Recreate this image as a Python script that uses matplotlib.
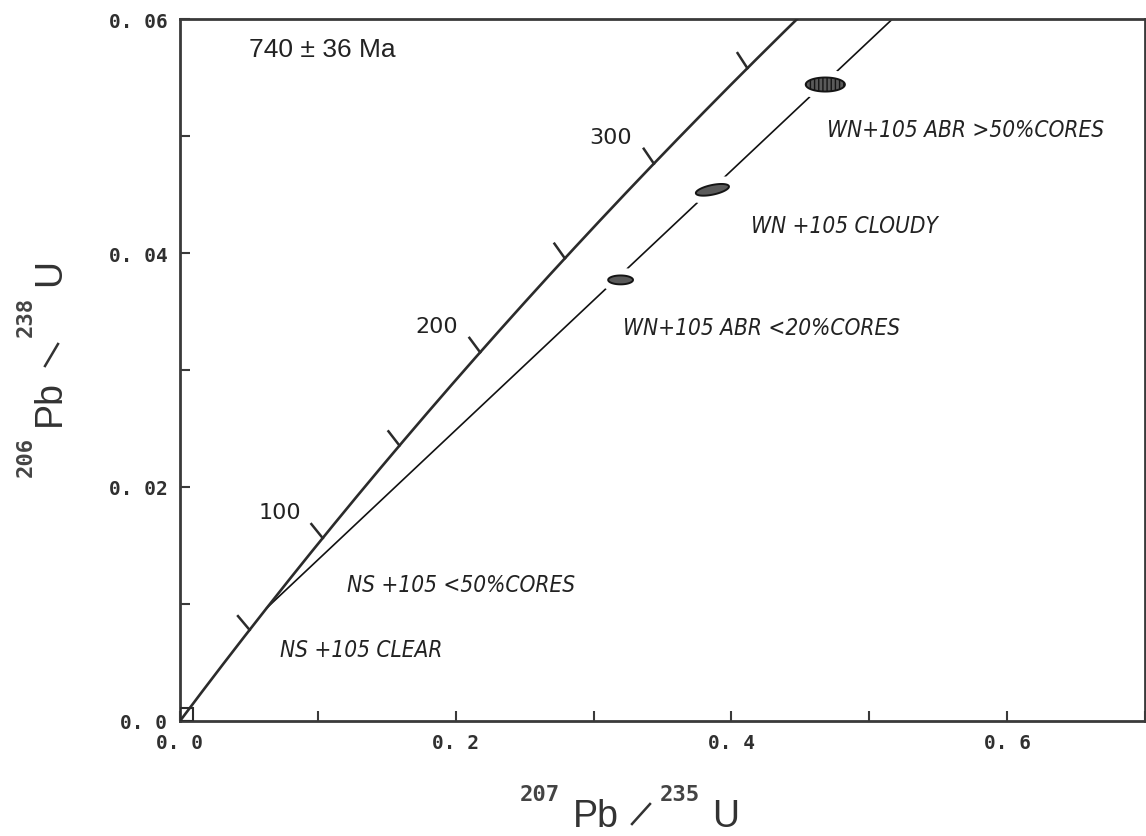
import numpy as np
import matplotlib
matplotlib.use("Agg")
import matplotlib.pyplot as plt
from matplotlib import font_manager
from matplotlib.patches import Rectangle
from matplotlib.lines import Line2D

# -------------------- Data --------------------

# decay constants, per Ma
lambda_238 = 1.55125e-4
lambda_235 = 9.8485e-4

# concordia age marks (Ma)
tick_ages = [50, 100, 150, 200, 250, 300, 350]
labelled_ages = [100, 200, 300]

# discordia intercepts (Ma)
lower_intercept = 62
upper_intercept = 740
upper_intercept_err = 36

# zircon fractions
sample_names = ["WN+105 ABR <20%CORES", "WN +105 CLOUDY", "WN+105 ABR >50%CORES"]
pb207_u235 = [0.3196, 0.3862, 0.4681]
pb206_u238 = [0.0377, 0.0454, 0.0544]
err_x = [0.0090, 0.0120, 0.0142]
err_y = [0.00038, 0.00050, 0.00060]
err_rho = [0.0, 0.55, 0.0]

# NS fractions (box near the origin)
ns_names = ["NS +105 <50%CORES", "NS +105 CLEAR"]
ns_box_x = [0.0, 0.0095]
ns_box_y = [0.0, 0.0011]

x_major = [0.0, 0.2, 0.4, 0.6]
x_labels = ["0. 0", "0. 2", "0. 4", "0. 6"]
x_minor = [0.1, 0.3, 0.5, 0.7]
y_major = [0.0, 0.02, 0.04, 0.06]
y_labels = ["0. 0", "0. 02", "0. 04", "0. 06"]
y_minor = [0.01, 0.03, 0.05]

# -------------------- Style --------------------

W, H = 1146, 837
line_dark = "#2b2b2b"
text_col = "#222222"
mono = "DejaVu Sans Mono"


def concordia(t):
    return np.exp(lambda_235 * t) - 1, np.exp(lambda_238 * t) - 1


def error_ellipse(cx, cy, sx, sy, rho, n=120):
    a = np.linspace(0, 2 * np.pi, n)
    x = cx + sx * np.cos(a)
    y = cy + sy * (rho * np.cos(a) + np.sqrt(1 - rho ** 2) * np.sin(a))
    return x, y


def fx(px):
    return px / W


def fy(py):
    return 1 - py / H


def pick_label_font():
    # look for an installed narrow / condensed face, italic preferred
    best, best_score = None, -1
    for f in font_manager.fontManager.ttflist:
        key = (f.name + " " + f.fname).lower()
        narrow = ("narrow" in key or "condensed" in key or "cond" in key
                  or str(f.stretch) in ("condensed", "semi-condensed", "extra-condensed"))
        if not narrow:
            continue
        w = f.weight
        bold = ("bold" in str(w).lower()) or (isinstance(w, (int, float)) and w >= 600)
        score = 4 * (f.style in ("italic", "oblique")) + 2 * (not bold) + 1
        if score > best_score:
            best, best_score = f, score
    if best is not None:
        return font_manager.FontProperties(fname=best.fname)
    return font_manager.FontProperties(family="Liberation Sans", style="italic")


def main():
    fig = plt.figure(figsize=(W / 100, H / 100), dpi=100)
    ax = fig.add_axes([fx(180), fy(722), (1145 - 180) / W, (722 - 20) / H])
    ax.set_xlim(0, 0.7)
    ax.set_ylim(0, 0.06)

    # concordia
    t = np.linspace(0, 400, 800)
    cx, cy = concordia(t)
    ax.plot(cx, cy, color=line_dark, lw=1.9, zorder=3)

    # discordia
    lx, ly = concordia(lower_intercept)
    ux, uy = concordia(upper_intercept)
    ax.plot([lx, ux], [ly, uy], color="#111111", lw=1.2, zorder=2)

    # age ticks on concordia (drawn in display space)
    fig.canvas.draw()
    renderer = fig.canvas.get_renderer()
    inv = ax.transData.inverted()
    ang = np.radians(78)
    rot = np.array([[np.cos(ang), -np.sin(ang)], [np.sin(ang), np.cos(ang)]])
    for age in tick_ages:
        p0 = ax.transData.transform(concordia(age))
        p1 = ax.transData.transform(concordia(age + 1))
        d = (p1 - p0) / np.linalg.norm(p1 - p0)
        end = p0 + rot @ d * 18
        q0, q1 = inv.transform(p0), inv.transform(end)
        ax.plot([q0[0], q1[0]], [q0[1], q1[1]], color=line_dark, lw=1.8, zorder=3)
        if age in labelled_ages:
            ax.annotate(str(age), xy=concordia(age), xytext=(-31, 19),
                        textcoords="offset points", ha="center", va="center",
                        fontsize=16, color=text_col, family="DejaVu Sans")

    # data ellipses with white halo breaking the discordia
    for i in range(len(sample_names)):
        ex, ey = error_ellipse(pb207_u235[i], pb206_u238[i], err_x[i], err_y[i], err_rho[i])
        ax.fill(ex, ey, facecolor="white", edgecolor="white", lw=11, zorder=4)
        ax.fill(ex, ey, facecolor="#5a5a5a", edgecolor="#151515", lw=1.4, zorder=5,
                hatch="||||" if i == 2 else None)

    ax.add_patch(Rectangle((ns_box_x[0], ns_box_y[0]), ns_box_x[1] - ns_box_x[0],
                           ns_box_y[1] - ns_box_y[0], fill=False,
                           edgecolor=line_dark, lw=1.5, zorder=3))

    # sample labels, sized so the longest one spans ~277 px like the original
    fp = pick_label_font()
    probe = ax.text(0, 0, sample_names[2], fontproperties=fp, fontsize=20)
    wpx = probe.get_window_extent(renderer).width
    probe.remove()
    lab_size = min(21.0, 20.0 * 277.0 / wpx)

    label_pos = [(0.3210, 0.03308), (0.4145, 0.0418), (0.4696, 0.0500)]
    for name, (px, py) in zip(sample_names, label_pos):
        ax.text(px, py, name, fontproperties=fp, fontsize=lab_size,
                color=text_col, ha="left", va="baseline")
    ns_pos = [(0.1210, 0.01111), (0.0725, 0.00556)]
    for name, (px, py) in zip(ns_names, ns_pos):
        ax.text(px, py, name, fontproperties=fp, fontsize=lab_size,
                color=text_col, ha="left", va="baseline")

    ax.text(0.072, 0.957, f"{upper_intercept} \u00b1 {upper_intercept_err} Ma",
            transform=ax.transAxes, fontsize=19, family="Liberation Sans",
            color=text_col, ha="left", va="center")

    # axes styling
    for s in ax.spines.values():
        s.set_color("#3a3a3a")
        s.set_linewidth(2)
    ax.set_xticks(x_major)
    ax.set_xticklabels(x_labels)
    ax.set_xticks(x_minor, minor=True)
    ax.set_yticks(y_major)
    ax.set_yticklabels(y_labels)
    ax.set_yticks(y_minor, minor=True)
    ax.tick_params(which="both", direction="in", length=7, width=1.5,
                   color="#3a3a3a", top=False, right=False)
    ax.tick_params(axis="x", which="major", pad=9)
    ax.tick_params(axis="y", which="major", pad=9)
    for lab in ax.get_xticklabels() + ax.get_yticklabels():
        lab.set_family(mono)
        lab.set_fontsize(14)
        lab.set_fontweight("bold")
        lab.set_color("#303030")

    # x axis label pieces
    sup = dict(family=mono, fontsize=16, fontweight="bold", color="#444444",
               ha="left", va="baseline")
    big = dict(family="Liberation Sans", fontsize=27, color="#333333",
               ha="left", va="baseline")
    fig.text(fx(520), fy(801), "207", **sup)
    fig.text(fx(573), fy(827), "Pb", **big)
    fig.add_artist(Line2D([fx(632), fx(650)], [fy(825), fy(805)],
                          transform=fig.transFigure, color="#333333", lw=1.8))
    fig.text(fx(660), fy(801), "235", **sup)
    fig.text(fx(712), fy(827), "U", **big)

    # y axis label pieces
    rsup = dict(sup, rotation=90, rotation_mode="anchor")
    rbig = dict(big, rotation=90, rotation_mode="anchor")
    fig.text(fx(32), fy(477), "206", **rsup)
    fig.text(fx(60), fy(426), "Pb", **rbig)
    fig.add_artist(Line2D([fx(45), fx(58)], [fy(367), fy(345)],
                          transform=fig.transFigure, color="#333333", lw=1.8))
    fig.text(fx(32), fy(337), "238", **rsup)
    fig.text(fx(60), fy(286), "U", **rbig)

    fig.savefig("out.png", dpi=100, facecolor="white")


if __name__ == "__main__":
    main()
